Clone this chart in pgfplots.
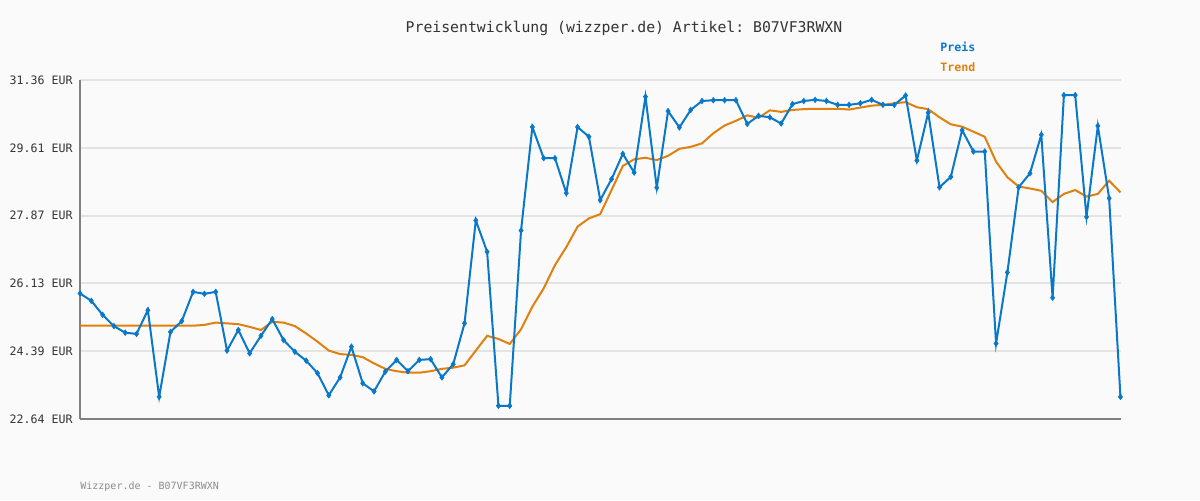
\documentclass[border=0pt]{standalone}
\usepackage{pgfplots}
\pgfplotsset{compat=1.18}
\usepackage{pgfplotstable}
\usepackage{fontspec}
\setmainfont{DejaVu Sans}
\setmonofont{DejaVu Sans Mono}
\definecolor{bg}{HTML}{FAFAFA}
\definecolor{preis}{HTML}{0A78C8}
\definecolor{trend}{HTML}{E0800E}
\definecolor{gridc}{HTML}{E4E4E4}
\definecolor{axc}{HTML}{808080}
\definecolor{txt}{HTML}{333333}

\pgfplotstableread{
x y
0 25.87
1 25.68
2 25.32
3 25.03
4 24.86
5 24.83
6 25.44
7 23.21
8 24.88
9 25.16
10 25.91
11 25.86
12 25.91
13 24.40
14 24.93
15 24.33
16 24.78
17 25.21
18 24.67
19 24.37
20 24.14
21 23.82
22 23.25
23 23.71
24 24.50
25 23.56
26 23.35
27 23.86
28 24.16
29 23.87
30 24.16
31 24.18
32 23.71
33 24.05
34 25.10
35 27.75
36 26.94
37 22.98
38 22.98
39 27.49
40 30.15
41 29.35
42 29.35
43 28.45
44 30.15
45 29.90
46 28.27
47 28.81
48 29.46
49 28.98
50 30.93
51 28.59
52 30.56
53 30.14
54 30.59
55 30.82
56 30.84
57 30.84
58 30.84
59 30.23
60 30.44
61 30.40
62 30.24
63 30.74
64 30.82
65 30.85
66 30.82
67 30.72
68 30.72
69 30.76
70 30.85
71 30.72
72 30.72
73 30.96
74 29.29
75 30.52
76 28.60
77 28.87
78 30.07
79 29.52
80 29.52
81 24.58
82 26.41
83 28.60
84 28.96
85 29.95
86 25.76
87 30.97
88 30.97
89 27.84
90 30.18
91 28.32
92 23.21
}\preis

\pgfplotstableread{
x y
0 25.04
1 25.04
2 25.04
3 25.04
4 25.04
5 25.04
6 25.04
7 25.04
8 25.04
9 25.04
10 25.04
11 25.06
12 25.12
13 25.10
14 25.08
15 25.01
16 24.93
17 25.14
18 25.12
19 25.03
20 24.84
21 24.63
22 24.40
23 24.31
24 24.29
25 24.23
26 24.07
27 23.93
28 23.87
29 23.83
30 23.83
31 23.87
32 23.93
33 23.96
34 24.02
35 24.40
36 24.78
37 24.70
38 24.57
39 24.95
40 25.53
41 26.00
42 26.60
43 27.06
44 27.59
45 27.80
46 27.91
47 28.53
48 29.15
49 29.32
50 29.36
51 29.30
52 29.41
53 29.59
54 29.64
55 29.73
56 29.99
57 30.19
58 30.31
59 30.45
60 30.39
61 30.58
62 30.54
63 30.59
64 30.61
65 30.62
66 30.62
67 30.62
68 30.60
69 30.65
70 30.70
71 30.72
72 30.76
73 30.79
74 30.66
75 30.61
76 30.40
77 30.22
78 30.16
79 30.03
80 29.90
81 29.26
82 28.86
83 28.62
84 28.57
85 28.51
86 28.22
87 28.43
88 28.53
89 28.36
90 28.43
91 28.77
92 28.47
}\trend

\begin{document}
\begin{tikzpicture}
\fill[bg] (-40pt,-40.5pt) rectangle (560pt,209.5pt);
\useasboundingbox (-40pt,-40.5pt) rectangle (560pt,209.5pt);
\begin{axis}[
  at={(0,0)}, anchor=origin,
  scale only axis,
  width=520.5pt, height=169.5pt,
  xmin=0, xmax=92.05,
  ymin=22.64, ymax=31.36,
  axis x line*=bottom, axis y line*=left,
  axis line style={draw=axc, line width=1pt, -},
  xtick=\empty,
  ytick={22.64,24.384,26.128,27.872,29.616,31.36},
  yticklabels={22.64 EUR,24.39 EUR,26.13 EUR,27.87 EUR,29.61 EUR,31.36 EUR},
  major tick length=0pt,
  yticklabel style={font=\fontsize{5.8}{6}\ttfamily, text=txt, inner sep=0pt, xshift=-3.5pt},
  ymajorgrids,
  grid style={draw=gridc, line width=1pt},
  clip=false,
]
\addplot[trend, line width=1pt, no marks] table[x=x,y=y] {\trend};
\addplot[preis, line width=1pt, mark=diamond*, mark size=1.4pt, mark options={fill=preis, draw=preis, line width=0.3pt}] table[x=x,y=y] {\preis};
\end{axis}
\node[text=txt, font=\fontsize{7.4}{8}\ttfamily] at (272pt,195.5pt) {Preisentwicklung (wizzper.de) Artikel: B07VF3RWXN};
\node[anchor=west, inner sep=0pt, text=preis, font=\fontsize{5.8}{6}\ttfamily\bfseries] at (430pt,186pt) {Preis};
\node[anchor=west, inner sep=0pt, text=trend, font=\fontsize{5.8}{6}\ttfamily\bfseries] at (430pt,176pt) {Trend};
\node[anchor=west, inner sep=0pt, text=black!45, font=\fontsize{5}{6}\ttfamily] at (0pt,-34pt) {Wizzper.de - B07VF3RWXN};
\end{tikzpicture}
\end{document}
